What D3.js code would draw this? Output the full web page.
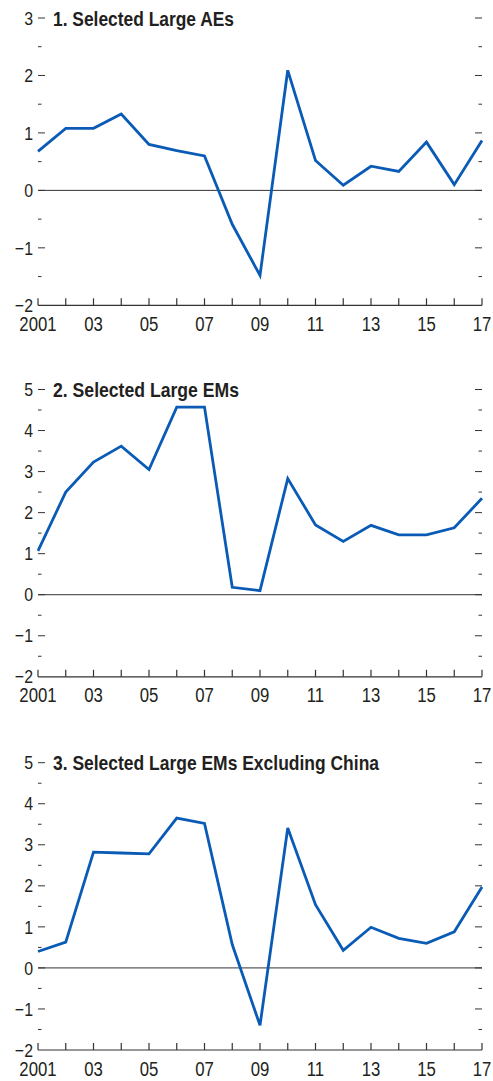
<!DOCTYPE html>
<html>
<head>
<meta charset="utf-8">
<script src="https://cdn.jsdelivr.net/npm/d3@7"></script>
<style>
  body { margin: 0; background: #fff; }
  svg { display: block; }
  text { font-family: "Liberation Sans", Arial, sans-serif; fill: #231f20; }
</style>
</head>
<body>
<svg id="chart" width="493" height="1081"></svg>
<script>
const years = d3.range(2001, 2018);
const xLabels = ["2001", "03", "05", "07", "09", "11", "13", "15", "17"];

const titles = [
  "1. Selected Large AEs",
  "2. Selected Large EMs",
  "3. Selected Large EMs Excluding China"
];
const titleWidths = [181, 186, 326];

const aes = [0.68, 1.08, 1.08, 1.33, 0.80, 0.69, 0.60, -0.59, -1.48, 2.09, 0.52, 0.09, 0.42, 0.33, 0.84, 0.10, 0.87];
const ems = [1.07, 2.50, 3.23, 3.62, 3.05, 4.57, 4.57, 0.18, 0.10, 2.83, 1.70, 1.30, 1.69, 1.46, 1.46, 1.63, 2.35];
const emsExChina = [0.40, 0.63, 2.82, 2.80, 2.78, 3.65, 3.52, 0.57, -1.40, 3.41, 1.54, 0.43, 0.99, 0.72, 0.60, 0.88, 1.97];

const yDomains = [[-2, 3], [-2, 5], [-2, 5]];
const series = [aes, ems, emsExChina];

const svg = d3.select("#chart");
const left = 38, right = 482;
const tops = [18, 389.5, 762.7];
const plotH = 287.3;
const narrow = 0.86; // condensed look for tick labels

const x = d3.scaleLinear().domain([2001, 2017]).range([left, right]);
const fmt = v => (v < 0 ? "\u2212" + Math.abs(v) : String(v));

series.forEach((vals, i) => {
  const g = svg.append("g");
  const top = tops[i];
  const y = d3.scaleLinear().domain(yDomains[i]).range([top + plotH, top]);
  const [y0, y1] = yDomains[i];
  const major = d3.range(y0, y1 + 1);
  const minor = d3.range(y0 + 0.5, y1, 1);

  // left ticks
  g.selectAll(".lmaj").data(major.filter(v => v !== y0)).join("line")
    .attr("x1", left).attr("x2", left + 7)
    .attr("y1", d => y(d)).attr("y2", d => y(d))
    .attr("stroke", "#333").attr("stroke-width", 1);
  g.selectAll(".lmin").data(minor).join("line")
    .attr("x1", left).attr("x2", left + 3.5)
    .attr("y1", d => y(d)).attr("y2", d => y(d))
    .attr("stroke", "#333").attr("stroke-width", 1);
  // right ticks
  g.selectAll(".rmaj").data(major.filter(v => v !== y0)).join("line")
    .attr("x1", right - 7).attr("x2", right)
    .attr("y1", d => y(d)).attr("y2", d => y(d))
    .attr("stroke", "#333").attr("stroke-width", 1);
  g.selectAll(".rmin").data(minor).join("line")
    .attr("x1", right - 3.5).attr("x2", right)
    .attr("y1", d => y(d)).attr("y2", d => y(d))
    .attr("stroke", "#333").attr("stroke-width", 1);

  // y labels
  g.selectAll(".ylab").data(major).join("text")
    .attr("transform", d => `translate(${left - 5},${y(d)}) scale(${narrow},1)`)
    .attr("dy", "0.36em")
    .attr("text-anchor", "end")
    .attr("font-size", 18.5)
    .text(fmt);

  // zero line
  g.append("line")
    .attr("x1", left).attr("x2", right)
    .attr("y1", y(0)).attr("y2", y(0))
    .attr("stroke", "#333").attr("stroke-width", 1);

  // x axis
  const base = y(y0);
  g.append("line")
    .attr("x1", left).attr("x2", right)
    .attr("y1", base).attr("y2", base)
    .attr("stroke", "#333").attr("stroke-width", 1.2);
  g.selectAll(".xt").data(years).join("line")
    .attr("x1", d => x(d)).attr("x2", d => x(d))
    .attr("y1", base).attr("y2", base - 7)
    .attr("stroke", "#333").attr("stroke-width", 1.2);
  g.selectAll(".xlab").data(xLabels).join("text")
    .attr("transform", (d, j) => `translate(${x(2001 + j * 2)},${base + 25.5}) scale(${narrow},1)`)
    .attr("text-anchor", "middle")
    .attr("font-size", 19.5)
    .text(d => d);

  // series line
  g.append("path")
    .datum(vals)
    .attr("fill", "none")
    .attr("stroke", "#0a5bb6")
    .attr("stroke-width", 2.8)
    .attr("stroke-linejoin", "miter")
    .attr("d", d3.line().x((d, j) => x(years[j])).y(d => y(d)));

  // title
  g.append("text")
    .attr("x", 53).attr("y", top + 7.5)
    .attr("font-size", 21)
    .attr("font-weight", "bold")
    .attr("textLength", titleWidths[i])
    .attr("lengthAdjust", "spacingAndGlyphs")
    .text(titles[i]);
});
</script>
</body>
</html>
